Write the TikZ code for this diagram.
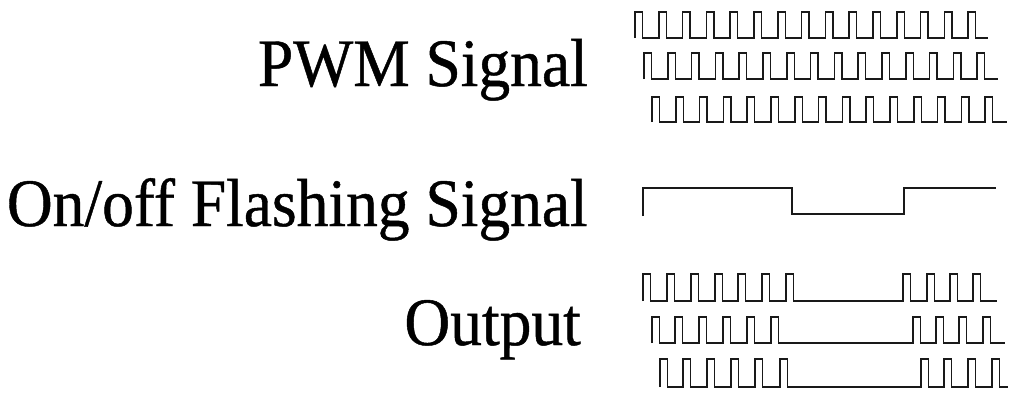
\documentclass[tikz,border=0pt]{standalone}
\usepackage{fontspec}
\setmainfont{Liberation Serif}
\newfontfamily\lblfont[BoldFont={Liberation Serif}, BoldFeatures={FakeBold=0.7}]{Liberation Serif}
\begin{document}
\begin{tikzpicture}[x=1pt,y=-1pt,
  lbl/.style={font=\lblfont\bfseries\fontsize{63.5}{70}\selectfont, anchor=base east, inner sep=0pt},
  wave/.style={line width=1.5pt, line join=miter, black!90}]
\useasboundingbox (0,0) rectangle (1009,394);
\node[lbl] (pwm) at (588,86) {\scalebox{1}[1.07]{PWM Signal}};
\node[lbl] (onoff) at (588,226) {\scalebox{1}[1.07]{On/off Flashing Signal}};
\node[lbl] (out) at (581,345) {\scalebox{1}[1.07]{Output}};
% PWM signals
\draw[wave] (635,38) foreach \i in {0,...,14} { -- ({635+\i*23.8},38) -- ({635+\i*23.8},12) -- ({642.5+\i*23.8},12) -- ({642.5+\i*23.8},38)} -- (988,38);
\draw[wave] (644,79) foreach \i in {0,...,14} { -- ({644+\i*23.8},79) -- ({644+\i*23.8},53) -- ({651.5+\i*23.8},53) -- ({651.5+\i*23.8},79)} -- (998,79);
\draw[wave] (652,122) foreach \i in {0,...,14} { -- ({652+\i*23.8},122) -- ({652+\i*23.8},97) -- ({659.5+\i*23.8},97) -- ({659.5+\i*23.8},122)} -- (1007,122);
% On/off signal
\draw[wave] (643,216) -- (643,188) -- (792,188) -- (792,214) -- (904,214) -- (904,188) -- (996,188);
% Output signals
\draw[wave] (643,301) foreach \x in {643,667,691,715,738,762,786,903,927,950,973} { -- (\x,301) -- (\x,274) -- ({\x+7.5},274) -- ({\x+7.5},301)} -- (997,301);
\draw[wave] (652,343) foreach \x in {652,675,699,723,747,771,913,936,959,983} { -- (\x,343) -- (\x,317) -- ({\x+7.5},317) -- ({\x+7.5},343)} -- (1005,343);
\draw[wave] (660,387) foreach \x in {660,683,707,731,755,780,921,944,968,992} { -- (\x,387) -- (\x,359) -- ({\x+7.5},359) -- ({\x+7.5},387)} -- (1008,387);
\end{tikzpicture}
\end{document}
